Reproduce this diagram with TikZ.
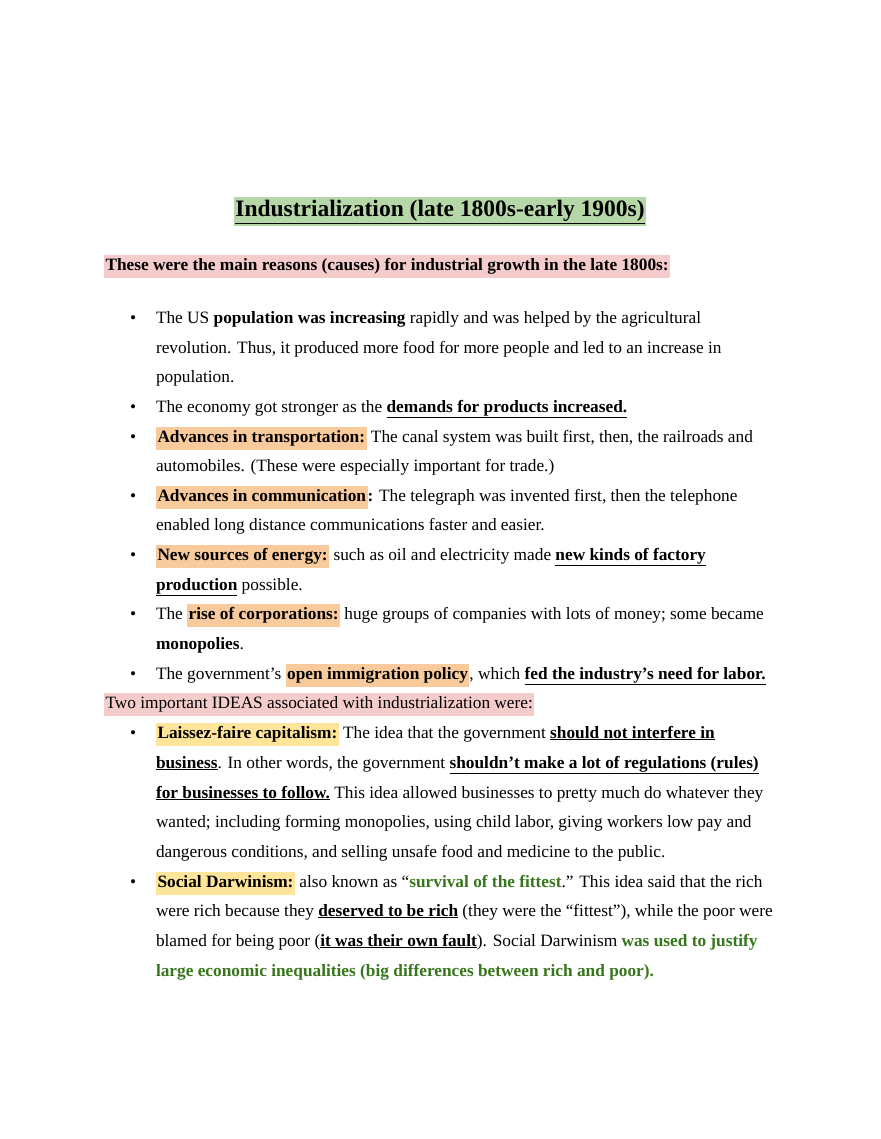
\documentclass[tikz,border=0pt]{standalone}
\usepackage{fontspec}
\setmainfont{Liberation Serif}
\definecolor{hgreen}{HTML}{B6D7A8}
\definecolor{hpink}{HTML}{F4CCCC}
\definecolor{horange}{HTML}{F9CB9C}
\definecolor{hyellow}{HTML}{FFE599}
\definecolor{tgreen}{HTML}{38761D}
\newcommand{\hlx}[2]{{\setlength{\fboxsep}{1.5pt}\colorbox{#1}{\strut #2}}}
\newcommand{\ulx}[1]{\underline{#1}}
\begin{document}
\begin{tikzpicture}[x=1pt,y=-1pt,
  every node/.style={inner sep=0pt,outer sep=0pt},
  ln/.style={anchor=base west,font=\fontsize{17.3}{20}\selectfont},
  bl/.style={anchor=base west,font=\fontsize{17.3}{20}\selectfont}]
\useasboundingbox (0,0) rectangle (880,1139);
\fill[white] (0,0) rectangle (880,1139);
\node[anchor=base,font=\fontsize{23.5}{26}\selectfont\bfseries] (title) at (440,217) {\hlx{hgreen}{\ulx{Industrialization (late 1800s-early 1900s)}}};
\node[ln] (h1) at (104,271) {\hlx{hpink}{\textbf{These were the main reasons (causes) for industrial growth in the late 1800s:}}};
\foreach \y in {323,412,442,501,560,619,679,738,887}
  \node[bl] (b\y) at (130,\y) {\textbullet};
\node[ln] (l1) at (156,323) {The US \textbf{population was increasing} rapidly and was helped by the agricultural};
\node[ln] (l2) at (156,353) {revolution. Thus, it produced more food for more people and led to an increase in};
\node[ln] (l3) at (156,382) {population.};
\node[ln] (l4) at (156,412) {The economy got stronger as the \textbf{\ulx{demands for products increased.}}};
\node[ln] (l5) at (156,442) {\hlx{horange}{\textbf{Advances in transportation:}} The canal system was built first, then, the railroads and};
\node[ln] (l6) at (156,471) {automobiles. (These were especially important for trade.)};
\node[ln] (l7) at (156,501) {\hlx{horange}{\textbf{Advances in communication}}\textbf{:} The telegraph was invented first, then the telephone};
\node[ln] (l8) at (156,530) {enabled long distance communications faster and easier.};
\node[ln] (l9) at (156,560) {\hlx{horange}{\textbf{New sources of energy:}} such as oil and electricity made \textbf{\ulx{new kinds of factory}}};
\node[ln] (l10) at (156,590) {\textbf{\ulx{production}} possible.};
\node[ln] (l11) at (156,619) {The \hlx{horange}{\textbf{rise of corporations:}} huge groups of companies with lots of money; some became};
\node[ln] (l12) at (156,649) {\textbf{monopolies}.};
\node[ln] (l13) at (156,679) {The government’s \hlx{horange}{\textbf{open immigration policy}}, which \textbf{\ulx{fed the industry's need for labor.}}};
\node[ln] (h2) at (104,708) {\hlx{hpink}{Two important IDEAS associated with industrialization were:}};
\node[ln] (m1) at (156,738) {\hlx{hyellow}{\textbf{Laissez-faire capitalism:}} The idea that the government \textbf{\ulx{should not interfere in}}};
\node[ln] (m2) at (156,768) {\textbf{\ulx{business}}. In other words, the government \textbf{\ulx{shouldn’t make a lot of regulations (rules)}}};
\node[ln] (m3) at (156,798) {\textbf{\ulx{for businesses to follow.}} This idea allowed businesses to pretty much do whatever they};
\node[ln] (m4) at (156,827) {wanted; including forming monopolies, using child labor, giving workers low pay and};
\node[ln] (m5) at (156,857) {dangerous conditions, and selling unsafe food and medicine to the public.};
\node[ln] (m6) at (156,887) {\hlx{hyellow}{\textbf{Social Darwinism:}} also known as “\textcolor{tgreen}{\textbf{survival of the fittest}}.” This idea said that the rich};
\node[ln] (m7) at (156,916) {were rich because they \textbf{\ulx{deserved to be rich}} (they were the “fittest”), while the poor were};
\node[ln] (m8) at (156,946) {blamed for being poor (\textbf{\ulx{it was their own fault}}). Social Darwinism \textcolor{tgreen}{\textbf{was used to justify}}};
\node[ln] (m9) at (156,976) {\textcolor{tgreen}{\textbf{large economic inequalities (big differences between rich and poor).}}};
\end{tikzpicture}
\end{document}
